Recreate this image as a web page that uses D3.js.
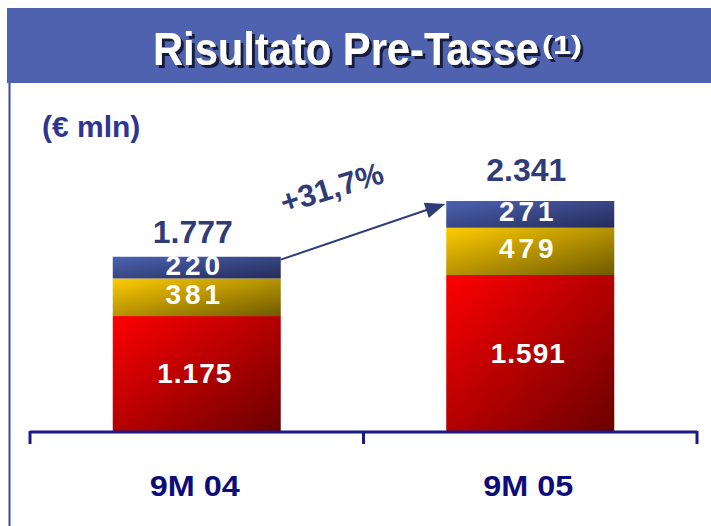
<!DOCTYPE html>
<html><head><meta charset="utf-8">
<script src="https://cdn.jsdelivr.net/npm/d3@7"></script>
<style>body{margin:0;background:#fff;}svg{display:block;}</style>
</head><body>
<svg id="c" width="711" height="526"></svg>
<script>
const categories = ["9M 04", "9M 05"];
const seriesNames = ["base", "mid", "top"];
const baseValues = [1175, 1591];
const midValues = [381, 479];
const topValues = [220, 271];
const totals = [1777, 2341];
const segLabels = [["1.175","381","220"],["1.591","479","271"]];
const totalLabels = ["1.777", "2.341"];
const growthLabel = "+31,7%";

const svg = d3.select("#c");
const W = 711, H = 526;
const defs = svg.append("defs");
function grad(id, c1, c2){
  const g = defs.append("linearGradient").attr("id", id)
    .attr("x1","0").attr("y1","0").attr("x2","1").attr("y2","1");
  g.append("stop").attr("offset","0").attr("stop-color",c1);
  g.append("stop").attr("offset","1").attr("stop-color",c2);
}
grad("gRed", "#ff0000", "#6a0000");
grad("gYel", "#ffcc00", "#6e5a00");
grad("gBlu", "#4c62b2", "#232b58");
const fills = ["url(#gRed)", "url(#gYel)", "url(#gBlu)"];
const FONT = "'Liberation Sans',Arial,sans-serif";

const sh = defs.append("filter").attr("id","shadow").attr("x","-10%").attr("y","-20%").attr("width","130%").attr("height","150%");
sh.append("feDropShadow").attr("dx",3).attr("dy",3).attr("stdDeviation",0.4)
  .attr("flood-color","#141a3a").attr("flood-opacity",1);

// Title banner
svg.append("rect").attr("x",7).attr("y",8).attr("width",W-7).attr("height",75).attr("fill","#4f62b0");
svg.append("line").attr("x1",9.5).attr("x2",9.5).attr("y1",83).attr("y2",H).attr("stroke","#3a48a8").attr("stroke-width",2);
const tt = svg.append("text").attr("filter","url(#shadow)").attr("x",153).attr("y",65).attr("fill","#fff")
  .style("font-family",FONT).style("font-weight","bold").style("font-size","46px");
tt.append("tspan").attr("textLength",386).attr("lengthAdjust","spacingAndGlyphs").text("Risultato Pre-Tasse");
tt.append("tspan").attr("x",542).attr("dy",-11).style("font-size","25px")
  .attr("textLength",40).attr("lengthAdjust","spacingAndGlyphs").text("(1)");

svg.append("text").attr("x",42).attr("y",137).text("(€ mln)")
  .attr("fill","#2e3590").style("font-family",FONT)
  .style("font-weight","bold").style("font-size","30px");

// Scales
const baseY = 432;
const y = d3.scaleLinear().domain([0, 2341]).range([baseY, 201]);
const x = d3.scaleBand().domain(categories).range([30, 697]);
const barW = 168;

const stackData = categories.map((c,i)=>({cat:c, base:baseValues[i], mid:midValues[i], top:topValues[i]}));
const stacked = d3.stack().keys(seriesNames)(stackData);

const barG = svg.append("g");
stacked.forEach((s,si)=>{
  s.forEach((d,ci)=>{
    const cx = x(categories[ci]) + x.bandwidth()/2;
    barG.append("rect")
      .attr("x", cx - barW/2)
      .attr("y", y(d[1]))
      .attr("width", barW)
      .attr("height", y(d[0]) - y(d[1]))
      .attr("fill", fills[si]);
  });
});

// segment labels
stacked.forEach((s,si)=>{
  s.forEach((d,ci)=>{
    const cx = x(categories[ci]) + x.bandwidth()/2 - 2;
    const mid = (y(d[0]) + y(d[1]))/2;
    barG.append("text").attr("x", cx).attr("y", mid + (si===0 ? 9 : 7))
      .attr("text-anchor","middle").attr("fill","#ffffff")
      .style("font-family",FONT)
      .style("font-weight","bold").style("font-size", "28px")
      .style("letter-spacing", si===0 ? "1px" : "4px")
      .text(segLabels[ci][si]);
  });
});

// totals
const totalGap = [14, 20];
categories.forEach((c,i)=>{
  const cx = x(c) + x.bandwidth()/2 - 4;
  svg.append("text").attr("x", cx).attr("y", y(totals[i]) - totalGap[i])
    .attr("text-anchor","middle").attr("fill","#2f3c78")
    .style("font-family",FONT)
    .style("font-weight","bold").style("font-size","32px")
    .text(totalLabels[i]);
});

// arrow
const x0 = x(categories[0]) + x.bandwidth()/2 + barW/2;
const x1 = x(categories[1]) + x.bandwidth()/2 - barW/2;
const ya = y(totals[0]) + 3, yb = y(totals[1]) + 3;
svg.append("line").attr("x1",x0).attr("y1",ya).attr("x2",x1-8).attr("y2",yb+2)
  .attr("stroke","#2f3c78").attr("stroke-width",2);
svg.append("path").attr("d", (()=>{
  const ang = Math.atan2(yb-ya, x1-x0);
  const tipx = x1-1, tipy = yb;
  const L=20, w=8;
  const bx = tipx - L*Math.cos(ang), by = tipy - L*Math.sin(ang);
  const px = -Math.sin(ang)*w, py = Math.cos(ang)*w;
  return `M${tipx},${tipy}L${bx+px},${by+py}L${bx-px},${by-py}Z`;
})()).attr("fill","#2f3c78");

svg.append("text").attr("transform","translate(335,198) rotate(-17)")
  .attr("text-anchor","middle").attr("fill","#2f3c78")
  .style("font-family",FONT)
  .style("font-weight","bold").style("font-size","31px")
  .text(growthLabel);

// axis
const axisG = svg.append("g").attr("transform",`translate(0,${baseY})`);
axisG.append("line").attr("x1",30).attr("x2",697).attr("y1",0).attr("y2",0).attr("stroke","#1b1b86").attr("stroke-width",3);
const tickXs = [x(categories[0]), x(categories[1]), x(categories[1]) + x.bandwidth()];
tickXs.forEach(tx=>{
  axisG.append("line").attr("x1",tx).attr("x2",tx).attr("y1",-1).attr("y2",12).attr("stroke","#1b1b86").attr("stroke-width",3);
});
categories.forEach(c=>{
  axisG.append("text").attr("x", x(c)+x.bandwidth()/2 - 2).attr("y", 64)
    .attr("text-anchor","middle").attr("fill","#0c0c7a")
    .style("font-family",FONT)
    .style("font-weight","bold").style("font-size","30px")
    .attr("textLength",90).attr("lengthAdjust","spacingAndGlyphs")
    .text(c);
});
</script>
</body></html>
